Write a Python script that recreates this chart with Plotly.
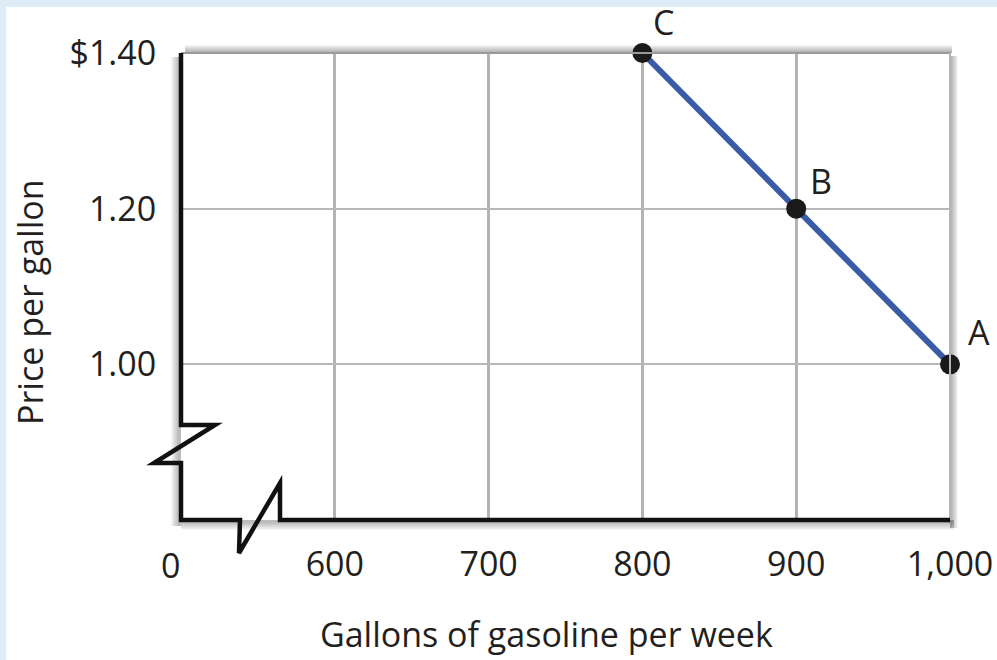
import plotly.graph_objects as go

# ---- data ----
quantity = [1000, 900, 800]
price = [1.00, 1.20, 1.40]
point_labels = ["A", "B", "C"]
x_tick_vals = [600, 700, 800, 900, 1000]
x_tick_text = ["600", "700", "800", "900", "1,000"]
y_tick_vals = [1.00, 1.20, 1.40]
y_tick_text = ["1.00", "1.20", "$1.40"]
x_title = "Gallons of gasoline per week"
y_title = "Price per gallon"

W, H = 997, 660
L, R, T, B = 181, 950, 53, 520
FONT = "Open Sans"
TXT = "#231f20"
FS = 34
BORDER = "#dfebf5"


def X(px):
    return (px - L) / (R - L)


def Y(py):
    return (B - py) / (B - T)


fig = go.Figure()
fig.add_trace(go.Scatter(
    x=quantity, y=price, mode="lines+markers",
    line=dict(color="#3a5ba7", width=6),
    marker=dict(color="#1a1a1a", size=20),
    hoverinfo="skip", showlegend=False, cliponaxis=False,
))

shapes = []
# light-blue strips on top and left edge of the page
shapes.append(dict(type="rect", xref="paper", yref="paper", layer="below",
                   x0=X(-5), x1=X(W + 5), y0=Y(7), y1=Y(-5),
                   fillcolor=BORDER, line=dict(width=0)))
shapes.append(dict(type="rect", xref="paper", yref="paper", layer="below",
                   x0=X(-5), x1=X(6), y0=Y(H + 5), y1=Y(-5),
                   fillcolor=BORDER, line=dict(width=0)))
# soft shadows around the plot box
for i in range(1, 9):
    op = 0.045
    shapes.append(dict(type="rect", xref="paper", yref="paper", layer="below",
                       x0=X(L + 4), x1=X(R + 2), y0=Y(T), y1=Y(T - i),
                       fillcolor=f"rgba(0,0,0,{op})", line=dict(width=0)))
    shapes.append(dict(type="rect", xref="paper", yref="paper", layer="below",
                       x0=X(R), x1=X(R + i), y0=Y(B + 8), y1=Y(T + 3),
                       fillcolor=f"rgba(0,0,0,{op})", line=dict(width=0)))
    shapes.append(dict(type="rect", xref="paper", yref="paper", layer="below",
                       x0=X(L - i - 2), x1=X(L), y0=Y(B + 6), y1=Y(T + 4),
                       fillcolor=f"rgba(0,0,0,{op * 0.8})", line=dict(width=0)))
    shapes.append(dict(type="rect", xref="paper", yref="paper", layer="below",
                       x0=X(L), x1=X(R + 4), y0=Y(B + i + 2), y1=Y(B),
                       fillcolor=f"rgba(0,0,0,{op * 0.8})", line=dict(width=0)))
# plot frame (top and right)
shapes.append(dict(type="line", xref="paper", yref="paper", x0=X(L), x1=X(R),
                   y0=1, y1=1, line=dict(color="#9a9a9a", width=2)))
shapes.append(dict(type="line", xref="paper", yref="paper", x0=1, x1=1,
                   y0=0, y1=1, line=dict(color="#b5b5b5", width=2)))

# axes with break symbols
pts = [(L, T), (L, 425), (215, 425), (154, 463), (L, 463), (L, B),
       (240, B), (239, 553), (280, 483), (280, B), (R, B)]
path = "M " + " L ".join(f"{X(a):.5f},{Y(b):.5f}" for a, b in pts)
shapes.append(dict(type="path", xref="paper", yref="paper", path=path,
                   line=dict(color="#111111", width=4.5)))

annotations = []
for xv, yv, lab, dx, dy in zip(quantity, price, point_labels,
                               [29, 25, 21], [32, 28, 31]):
    annotations.append(dict(x=xv, y=yv, xref="x", yref="y", text=lab,
                            showarrow=False, xshift=dx, yshift=dy,
                            xanchor="center", yanchor="middle",
                            height=36, valign="middle", borderpad=0,
                            font=dict(family=FONT, size=FS, color=TXT)))
annotations.append(dict(x=X(170), y=Y(565), xref="paper", yref="paper",
                        text="0", showarrow=False,
                        xanchor="center", yanchor="middle",
                        font=dict(family=FONT, size=FS, color=TXT)))
annotations.append(dict(x=X(546), y=Y(634), xref="paper", yref="paper",
                        text=x_title, showarrow=False,
                        xanchor="center", yanchor="middle",
                        font=dict(family=FONT, size=FS, color=TXT)))
annotations.append(dict(x=X(30), y=Y(302), xref="paper", yref="paper",
                        text=y_title, showarrow=False, textangle=-90,
                        xanchor="center", yanchor="middle",
                        font=dict(family=FONT, size=FS, color=TXT)))

fig.update_layout(
    width=W, height=H, autosize=False,
    margin=dict(l=L, r=W - R, t=T, b=H - B, pad=0, autoexpand=False),
    paper_bgcolor="white", plot_bgcolor="white",
    shapes=shapes, annotations=annotations,
    font=dict(family=FONT, size=FS, color=TXT),
    xaxis=dict(range=[500, 1000], tickvals=x_tick_vals, ticktext=x_tick_text,
               showgrid=True, gridcolor="#b3b3b3", gridwidth=3,
               showline=False, zeroline=False, ticks="outside",
               ticklen=14, tickcolor="rgba(0,0,0,0)", fixedrange=True,
               automargin=False),
    yaxis=dict(range=[0.8, 1.4], tickvals=y_tick_vals, ticktext=y_tick_text,
               showgrid=True, gridcolor="#b8b8b8", gridwidth=2,
               showline=False, zeroline=False, ticks="outside",
               ticklen=17, tickcolor="rgba(0,0,0,0)", fixedrange=True,
               automargin=False),
)

fig.write_html("out.html",
               config={"displayModeBar": False, "responsive": False},
               post_script="document.body.style.margin='0';"
                           "document.body.style.overflow='hidden';")
